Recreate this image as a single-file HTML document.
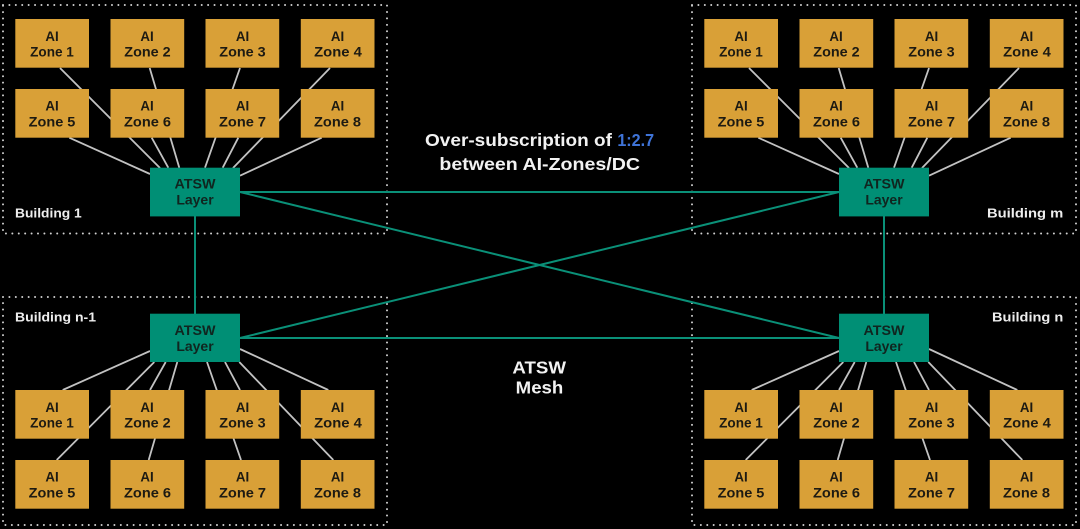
<!DOCTYPE html>
<html lang="en">
<head>
<meta charset="utf-8">
<title>ATSW Mesh</title>
<style>
html,body{margin:0;padding:0;background:#000;width:1080px;height:529px;overflow:hidden}
svg{display:block;filter:blur(.35px)}
text{font-family:"Liberation Sans",sans-serif;font-weight:700;text-anchor:middle}
.z{fill:#d9a037}
.t{fill:#008f75}
.zt{font-size:13.5px;fill:#1d1a12}
.tt{font-size:13.5px;fill:#10251f}
.b{font-size:13px;fill:#eee;text-anchor:start}
.h{font-size:17.5px;fill:#f2f2f2}
.g{stroke:#c2c2c2;stroke-width:1.8;fill:none}
.m{stroke:#0a9078;stroke-width:2;fill:none}
.d{stroke:#d0d0d0;stroke-width:2;stroke-dasharray:.01 6.4;stroke-linecap:round;fill:none}
</style>
</head>
<body>
<svg width="1080" height="529" viewBox="0 0 1080 529" xmlns="http://www.w3.org/2000/svg">
<rect width="1080" height="529" fill="#000"/>

<!-- dotted building frames -->
<rect class="d" x="3" y="5" width="384" height="228.5"/>
<rect class="d" x="692" y="5" width="384" height="228.5"/>
<rect class="d" x="3" y="297" width="384" height="228"/>
<rect class="d" x="692" y="297" width="384" height="228"/>

<!-- mesh links -->
<path class="m" d="M240 192H839M240 338H839M240 192L839 338M240 338L839 192M195 216V314M884 216V314"/>

<!-- top-left quadrant -->
<g id="tl">
<path class="g" d="M60 68L160 168M149.700 68L179.300 167.700M240 68L205 167.700M330 68L233 168M69.300 137.700L150 174M151.700 137.700L168.300 167.700M238.300 137.700L222.700 167.700M321.700 137.700L240 175.700"/>
<rect class="z" x="15.300" y="19" width="73.700" height="48.700"/>
<rect class="z" x="110.500" y="19" width="73.700" height="48.700"/>
<rect class="z" x="205.500" y="19" width="73.700" height="48.700"/>
<rect class="z" x="300.800" y="19" width="73.700" height="48.700"/>
<rect class="z" x="15.300" y="89" width="73.700" height="48.700"/>
<rect class="z" x="110.500" y="89" width="73.700" height="48.700"/>
<rect class="z" x="205.500" y="89" width="73.700" height="48.700"/>
<rect class="z" x="300.800" y="89" width="73.700" height="48.700"/>
<rect class="t" x="150" y="167.700" width="90" height="48.700"/>
<text class="zt" x="52" y="41" textLength="13.300" lengthAdjust="spacingAndGlyphs">AI</text>
<text class="zt" x="52" y="56.700" textLength="43.700" lengthAdjust="spacingAndGlyphs">Zone 1</text>
<text class="zt" x="147" y="41" textLength="13.300" lengthAdjust="spacingAndGlyphs">AI</text>
<text class="zt" x="147.500" y="56.700" textLength="46.400" lengthAdjust="spacingAndGlyphs">Zone 2</text>
<text class="zt" x="242.500" y="41" textLength="13.300" lengthAdjust="spacingAndGlyphs">AI</text>
<text class="zt" x="242.500" y="56.700" textLength="46.400" lengthAdjust="spacingAndGlyphs">Zone 3</text>
<text class="zt" x="337.500" y="41" textLength="13.300" lengthAdjust="spacingAndGlyphs">AI</text>
<text class="zt" x="338" y="56.700" textLength="47.700" lengthAdjust="spacingAndGlyphs">Zone 4</text>
<text class="zt" x="52" y="110.500" textLength="13.300" lengthAdjust="spacingAndGlyphs">AI</text>
<text class="zt" x="52" y="126.300" textLength="46.700" lengthAdjust="spacingAndGlyphs">Zone 5</text>
<text class="zt" x="147" y="110.500" textLength="13.300" lengthAdjust="spacingAndGlyphs">AI</text>
<text class="zt" x="147.500" y="126.300" textLength="47" lengthAdjust="spacingAndGlyphs">Zone 6</text>
<text class="zt" x="242.500" y="110.500" textLength="13.300" lengthAdjust="spacingAndGlyphs">AI</text>
<text class="zt" x="242.500" y="126.300" textLength="47" lengthAdjust="spacingAndGlyphs">Zone 7</text>
<text class="zt" x="337.500" y="110.500" textLength="13.300" lengthAdjust="spacingAndGlyphs">AI</text>
<text class="zt" x="337.500" y="126.300" textLength="47" lengthAdjust="spacingAndGlyphs">Zone 8</text>
<text class="tt" x="195" y="188.700" textLength="41" lengthAdjust="spacingAndGlyphs">ATSW</text>
<text class="tt" x="195" y="204.500" textLength="37.300" lengthAdjust="spacingAndGlyphs">Layer</text>
</g>

<!-- top-right quadrant -->
<g transform="translate(689 0)">
<path class="g" d="M60 68L160 168M149.700 68L179.300 167.700M240 68L205 167.700M330 68L233 168M69.300 137.700L150 174M151.700 137.700L168.300 167.700M238.300 137.700L222.700 167.700M321.700 137.700L240 175.700"/>
<rect class="z" x="15.300" y="19" width="73.700" height="48.700"/>
<rect class="z" x="110.500" y="19" width="73.700" height="48.700"/>
<rect class="z" x="205.500" y="19" width="73.700" height="48.700"/>
<rect class="z" x="300.800" y="19" width="73.700" height="48.700"/>
<rect class="z" x="15.300" y="89" width="73.700" height="48.700"/>
<rect class="z" x="110.500" y="89" width="73.700" height="48.700"/>
<rect class="z" x="205.500" y="89" width="73.700" height="48.700"/>
<rect class="z" x="300.800" y="89" width="73.700" height="48.700"/>
<rect class="t" x="150" y="167.700" width="90" height="48.700"/>
<text class="zt" x="52" y="41" textLength="13.300" lengthAdjust="spacingAndGlyphs">AI</text>
<text class="zt" x="52" y="56.700" textLength="43.700" lengthAdjust="spacingAndGlyphs">Zone 1</text>
<text class="zt" x="147" y="41" textLength="13.300" lengthAdjust="spacingAndGlyphs">AI</text>
<text class="zt" x="147.500" y="56.700" textLength="46.400" lengthAdjust="spacingAndGlyphs">Zone 2</text>
<text class="zt" x="242.500" y="41" textLength="13.300" lengthAdjust="spacingAndGlyphs">AI</text>
<text class="zt" x="242.500" y="56.700" textLength="46.400" lengthAdjust="spacingAndGlyphs">Zone 3</text>
<text class="zt" x="337.500" y="41" textLength="13.300" lengthAdjust="spacingAndGlyphs">AI</text>
<text class="zt" x="338" y="56.700" textLength="47.700" lengthAdjust="spacingAndGlyphs">Zone 4</text>
<text class="zt" x="52" y="110.500" textLength="13.300" lengthAdjust="spacingAndGlyphs">AI</text>
<text class="zt" x="52" y="126.300" textLength="46.700" lengthAdjust="spacingAndGlyphs">Zone 5</text>
<text class="zt" x="147" y="110.500" textLength="13.300" lengthAdjust="spacingAndGlyphs">AI</text>
<text class="zt" x="147.500" y="126.300" textLength="47" lengthAdjust="spacingAndGlyphs">Zone 6</text>
<text class="zt" x="242.500" y="110.500" textLength="13.300" lengthAdjust="spacingAndGlyphs">AI</text>
<text class="zt" x="242.500" y="126.300" textLength="47" lengthAdjust="spacingAndGlyphs">Zone 7</text>
<text class="zt" x="337.500" y="110.500" textLength="13.300" lengthAdjust="spacingAndGlyphs">AI</text>
<text class="zt" x="337.500" y="126.300" textLength="47" lengthAdjust="spacingAndGlyphs">Zone 8</text>
<text class="tt" x="195" y="188.700" textLength="41" lengthAdjust="spacingAndGlyphs">ATSW</text>
<text class="tt" x="195" y="204.500" textLength="37.300" lengthAdjust="spacingAndGlyphs">Layer</text>
</g>

<!-- bottom-left quadrant -->
<g>
<path class="g" d="M62.700 390L150 351M56.700 460L154.300 362M148.700 460L177.300 362M150 390L165.700 362M240 390L225 362M241 460L207 362M333.300 460L239.300 362M328.300 390L240 349"/>
<rect class="z" x="15.300" y="390" width="73.700" height="48.700"/>
<rect class="z" x="110.500" y="390" width="73.700" height="48.700"/>
<rect class="z" x="205.500" y="390" width="73.700" height="48.700"/>
<rect class="z" x="300.800" y="390" width="73.700" height="48.700"/>
<rect class="z" x="15.300" y="460" width="73.700" height="48.700"/>
<rect class="z" x="110.500" y="460" width="73.700" height="48.700"/>
<rect class="z" x="205.500" y="460" width="73.700" height="48.700"/>
<rect class="z" x="300.800" y="460" width="73.700" height="48.700"/>
<rect class="t" x="150" y="313.700" width="90" height="48.300"/>
<text class="zt" x="52" y="412" textLength="13.300" lengthAdjust="spacingAndGlyphs">AI</text>
<text class="zt" x="52" y="427.700" textLength="43.700" lengthAdjust="spacingAndGlyphs">Zone 1</text>
<text class="zt" x="147" y="412" textLength="13.300" lengthAdjust="spacingAndGlyphs">AI</text>
<text class="zt" x="147.500" y="427.700" textLength="46.400" lengthAdjust="spacingAndGlyphs">Zone 2</text>
<text class="zt" x="242.500" y="412" textLength="13.300" lengthAdjust="spacingAndGlyphs">AI</text>
<text class="zt" x="242.500" y="427.700" textLength="46.400" lengthAdjust="spacingAndGlyphs">Zone 3</text>
<text class="zt" x="337.500" y="412" textLength="13.300" lengthAdjust="spacingAndGlyphs">AI</text>
<text class="zt" x="338" y="427.700" textLength="47.700" lengthAdjust="spacingAndGlyphs">Zone 4</text>
<text class="zt" x="52" y="481.500" textLength="13.300" lengthAdjust="spacingAndGlyphs">AI</text>
<text class="zt" x="52" y="497.300" textLength="46.700" lengthAdjust="spacingAndGlyphs">Zone 5</text>
<text class="zt" x="147" y="481.500" textLength="13.300" lengthAdjust="spacingAndGlyphs">AI</text>
<text class="zt" x="147.500" y="497.300" textLength="47" lengthAdjust="spacingAndGlyphs">Zone 6</text>
<text class="zt" x="242.500" y="481.500" textLength="13.300" lengthAdjust="spacingAndGlyphs">AI</text>
<text class="zt" x="242.500" y="497.300" textLength="47" lengthAdjust="spacingAndGlyphs">Zone 7</text>
<text class="zt" x="337.500" y="481.500" textLength="13.300" lengthAdjust="spacingAndGlyphs">AI</text>
<text class="zt" x="337.500" y="497.300" textLength="47" lengthAdjust="spacingAndGlyphs">Zone 8</text>
<text class="tt" x="195" y="335" textLength="41" lengthAdjust="spacingAndGlyphs">ATSW</text>
<text class="tt" x="195" y="350.800" textLength="37.300" lengthAdjust="spacingAndGlyphs">Layer</text>
</g>

<!-- bottom-right quadrant -->
<g transform="translate(689 0)">
<path class="g" d="M62.700 390L150 351M56.700 460L154.300 362M148.700 460L177.300 362M150 390L165.700 362M240 390L225 362M241 460L207 362M333.300 460L239.300 362M328.300 390L240 349"/>
<rect class="z" x="15.300" y="390" width="73.700" height="48.700"/>
<rect class="z" x="110.500" y="390" width="73.700" height="48.700"/>
<rect class="z" x="205.500" y="390" width="73.700" height="48.700"/>
<rect class="z" x="300.800" y="390" width="73.700" height="48.700"/>
<rect class="z" x="15.300" y="460" width="73.700" height="48.700"/>
<rect class="z" x="110.500" y="460" width="73.700" height="48.700"/>
<rect class="z" x="205.500" y="460" width="73.700" height="48.700"/>
<rect class="z" x="300.800" y="460" width="73.700" height="48.700"/>
<rect class="t" x="150" y="313.700" width="90" height="48.300"/>
<text class="zt" x="52" y="412" textLength="13.300" lengthAdjust="spacingAndGlyphs">AI</text>
<text class="zt" x="52" y="427.700" textLength="43.700" lengthAdjust="spacingAndGlyphs">Zone 1</text>
<text class="zt" x="147" y="412" textLength="13.300" lengthAdjust="spacingAndGlyphs">AI</text>
<text class="zt" x="147.500" y="427.700" textLength="46.400" lengthAdjust="spacingAndGlyphs">Zone 2</text>
<text class="zt" x="242.500" y="412" textLength="13.300" lengthAdjust="spacingAndGlyphs">AI</text>
<text class="zt" x="242.500" y="427.700" textLength="46.400" lengthAdjust="spacingAndGlyphs">Zone 3</text>
<text class="zt" x="337.500" y="412" textLength="13.300" lengthAdjust="spacingAndGlyphs">AI</text>
<text class="zt" x="338" y="427.700" textLength="47.700" lengthAdjust="spacingAndGlyphs">Zone 4</text>
<text class="zt" x="52" y="481.500" textLength="13.300" lengthAdjust="spacingAndGlyphs">AI</text>
<text class="zt" x="52" y="497.300" textLength="46.700" lengthAdjust="spacingAndGlyphs">Zone 5</text>
<text class="zt" x="147" y="481.500" textLength="13.300" lengthAdjust="spacingAndGlyphs">AI</text>
<text class="zt" x="147.500" y="497.300" textLength="47" lengthAdjust="spacingAndGlyphs">Zone 6</text>
<text class="zt" x="242.500" y="481.500" textLength="13.300" lengthAdjust="spacingAndGlyphs">AI</text>
<text class="zt" x="242.500" y="497.300" textLength="47" lengthAdjust="spacingAndGlyphs">Zone 7</text>
<text class="zt" x="337.500" y="481.500" textLength="13.300" lengthAdjust="spacingAndGlyphs">AI</text>
<text class="zt" x="337.500" y="497.300" textLength="47" lengthAdjust="spacingAndGlyphs">Zone 8</text>
<text class="tt" x="195" y="335" textLength="41" lengthAdjust="spacingAndGlyphs">ATSW</text>
<text class="tt" x="195" y="350.800" textLength="37.300" lengthAdjust="spacingAndGlyphs">Layer</text>
</g>

<!-- building labels -->
<text class="b" x="15" y="217.300" textLength="66.700" lengthAdjust="spacingAndGlyphs">Building 1</text>
<text class="b" x="15" y="321.300" textLength="81" lengthAdjust="spacingAndGlyphs">Building n-1</text>
<text class="b" x="987" y="217.300" textLength="76.300" lengthAdjust="spacingAndGlyphs">Building m</text>
<text class="b" x="992" y="321.300" textLength="71.300" lengthAdjust="spacingAndGlyphs">Building n</text>

<!-- centre headings -->
<text class="h" x="518.500" y="146" textLength="187" lengthAdjust="spacingAndGlyphs">Over-subscription of</text>
<text class="h" x="635.700" y="146" textLength="36.700" lengthAdjust="spacingAndGlyphs" style="fill:#3f74d8">1:2.7</text>
<text class="h" x="539.700" y="170" textLength="200.700" lengthAdjust="spacingAndGlyphs">between AI-Zones/DC</text>
<text class="h" x="539.200" y="373.300" textLength="53.700" lengthAdjust="spacingAndGlyphs">ATSW</text>
<text class="h" x="539.500" y="393.300" textLength="47.600" lengthAdjust="spacingAndGlyphs">Mesh</text>
</svg>
</body>
</html>
